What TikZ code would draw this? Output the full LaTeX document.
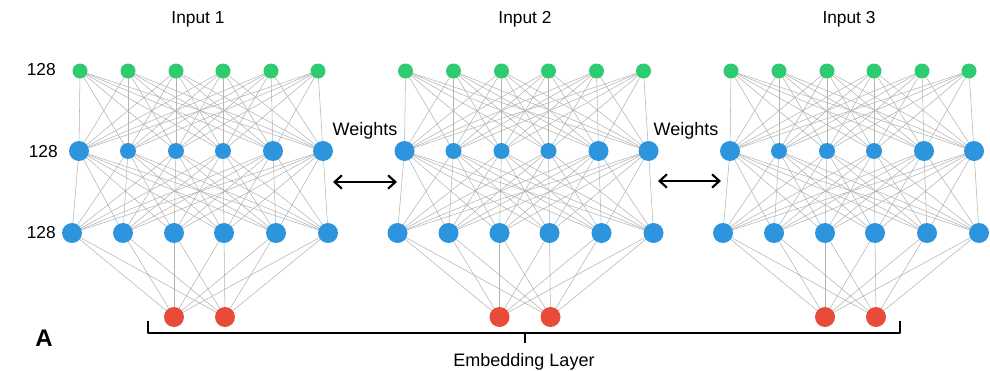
\documentclass[tikz,border=0pt]{standalone}
\usepackage{fontspec}
\setmainfont{Liberation Sans}
\usetikzlibrary{arrows.meta}
\pgfdeclarelayer{bg}
\pgfsetlayers{bg,main}
\definecolor{ngreen}{RGB}{46,204,113}
\definecolor{nblue}{RGB}{45,148,222}
\definecolor{nred}{RGB}{232,76,56}
\definecolor{edgegray}{RGB}{180,180,180}
\begin{document}
\begin{tikzpicture}[x=0.75pt,y=-0.75pt,
  unit/.style={circle,inner sep=0pt,draw=none},
  gn/.style={unit,minimum size=11.25pt,fill=ngreen},
  sb/.style={unit,minimum size=12pt,fill=nblue},
  bb/.style={unit,minimum size=15pt,fill=nblue},
  rn/.style={unit,minimum size=15pt,fill=nred},
  edge/.style={draw=edgegray,line width=0.4pt},
  lbl/.style={font=\fontsize{13}{15}\selectfont,inner sep=0pt},
  lblw/.style={font=\fontsize{13.5}{16}\selectfont,inner sep=0pt},
  dbl/.style={{Straight Barb[length=5.5pt,width=10pt]}-{Straight Barb[length=5.5pt,width=10pt]},line width=1.6pt},
  bracket/.style={line width=1.5pt,line join=round}]
\useasboundingbox (0,0) rectangle (990,371);

\foreach \k/\o in {1/0,2/325.5,3/651}{
  \foreach \i/\x in {1/80,2/128,3/176,4/223,5/271,6/318}
    \node[gn] (t-\k-\i) at (\o+\x,71) {};
  \foreach \i/\x/\s in {1/79/bb,2/128/sb,3/176/sb,4/223/sb,5/273/bb,6/323/bb}
    \node[\s] (m-\k-\i) at (\o+\x,151) {};
  \foreach \i/\x in {1/72,2/123,3/174,4/224,5/276,6/328}
    \node[bb] (b-\k-\i) at (\o+\x,233) {};
  \foreach \i/\x in {1/174,2/225}
    \node[rn] (r-\k-\i) at (\o+\x,317) {};
}

\begin{pgfonlayer}{bg}
\fill[white] (0,0) rectangle (990,371);
\foreach \k in {1,2,3}{
  \foreach \i in {1,...,6}{
    \foreach \j in {1,...,6}{
      \draw[edge] (t-\k-\i.center) -- (m-\k-\j.center);
      \draw[edge] (m-\k-\i.center) -- (b-\k-\j.center);
    }
    \foreach \j in {1,2}
      \draw[edge] (b-\k-\i.center) -- (r-\k-\j.center);
  }
}
\end{pgfonlayer}

\node[lbl,anchor=base] (in1) at (198,23) {Input 1};
\node[lbl,anchor=base] (in2) at (525,23) {Input 2};
\node[lbl,anchor=base] (in3) at (849,23) {Input 3};

\node[lbl,anchor=east] (l1) at (56,70) {128};
\node[lbl,anchor=east] (l2) at (58,152) {128};
\node[lbl,anchor=east] (l3) at (56,233) {128};

\node[lblw,anchor=base] (w1) at (365,135) {Weights};
\node[lblw,anchor=base] (w2) at (686,135) {Weights};

\coordinate (a1l) at (333,182);
\coordinate (a1r) at (397,182);
\coordinate (a2l) at (658,181);
\coordinate (a2r) at (721,181);
\draw[dbl] (a1l) -- (a1r);
\draw[dbl] (a2l) -- (a2r);

\coordinate (brL) at (148,321);
\coordinate (brL2) at (148,333);
\coordinate (brR2) at (900,333);
\coordinate (brR) at (900,321);
\coordinate (brM) at (525,333);
\coordinate (brC) at (525,343);
\draw[bracket] (brL) -- (brL2) -- (brR2) -- (brR);
\draw[bracket] (brM) -- (brC);

\node[lblw,anchor=base] (emb) at (524,366) {Embedding Layer};
\node[inner sep=0pt,anchor=base,font=\fontsize{18}{20}\selectfont\bfseries] (lA) at (44,346) {A};
\end{tikzpicture}
\end{document}
